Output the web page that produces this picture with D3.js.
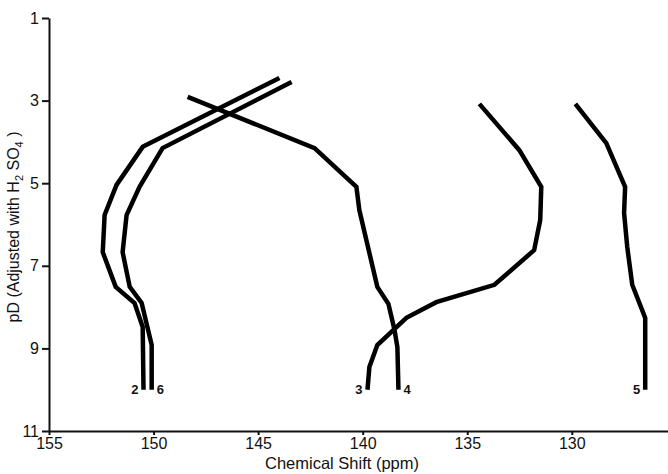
<!DOCTYPE html>
<html>
<head>
<meta charset="utf-8">
<script src="https://cdn.jsdelivr.net/npm/d3@7"></script>
<style>
  body { margin: 0; background: #fff; }
  svg text { font-family: "Liberation Sans", Arial, sans-serif; fill: #111; }
  .axis path, .axis line { stroke: #111; stroke-width: 2; }
  .axis text { font-size: 16px; }
  .curve { fill: none; stroke: #000; stroke-width: 4.5; stroke-linejoin: miter; }
  .curveLabel { font-size: 13px; font-weight: bold; }
</style>
</head>
<body>
<div id="chart"></div>
<script>
// chemical shift (ppm) vs pD, one pair of arrays per carbon
var shift2 = [143.98, 150.52, 151.77, 152.34, 152.43, 151.81, 150.91, 150.52, 150.48];
var pD2    = [2.45,   4.12,   5.04,   5.77,   6.67,   7.51,   7.90,   8.48,   10.0];

var shift6 = [143.4, 149.57, 150.67, 151.29, 151.48, 151.14, 150.57, 150.09, 150.09];
var pD6    = [2.55,  4.15,   5.09,   5.77,   6.67,   7.51,   7.90,   8.92,   10.0];

var shift4 = [148.37, 142.3, 140.3, 140.16, 139.3, 138.77, 138.48, 138.34, 138.29];
var pD4    = [2.91,   4.15,  5.09,  5.65,   7.51,  7.92,   8.55,   8.97,   10.0];

var shift3 = [134.42, 132.51, 131.46, 131.51, 131.8, 133.7, 136.48, 137.91, 139.3, 139.68, 139.77];
var pD3    = [3.08,   4.20,   5.09,   5.89,   6.62,  7.46,  7.88,   8.26,   8.92,  9.45,   10.0];

var shift5 = [129.83, 128.35, 127.45, 127.5, 127.35, 127.11, 126.49, 126.49];
var pD5    = [3.08,   4.03,   5.09,   5.72,  6.54,   7.46,   8.26,   10.0];

var curveNames = ["2", "6", "3", "4", "5"];
var labelSide = ["left", "right", "left", "right", "left"];

var xTicks = [155, 150, 145, 140, 135, 130];
var yTicks = [1, 3, 5, 7, 9, 11];

var series = [
  {name: "2", shift: shift2, pD: pD2},
  {name: "6", shift: shift6, pD: pD6},
  {name: "3", shift: shift3, pD: pD3},
  {name: "4", shift: shift4, pD: pD4},
  {name: "5", shift: shift5, pD: pD5}
];

var svgWidth = 668;
var svgHeight = 474;

var svg = d3.select("#chart")
  .append("svg")
  .attr("width", svgWidth)
  .attr("height", svgHeight);

// scales: shift runs right to left, pD runs top to bottom
var x = d3.scaleLinear().domain([155, 125.4]).range([49, 668]);
var y = d3.scaleLinear().domain([1, 11]).range([18, 431]);

svg.append("g")
  .attr("class", "axis")
  .attr("transform", "translate(0," + y(11) + ")")
  .call(d3.axisBottom(x).tickValues(xTicks).tickSize(4).tickSizeOuter(0).tickPadding(3));

svg.append("g")
  .attr("class", "axis")
  .attr("transform", "translate(" + x(155) + ",0)")
  .call(d3.axisLeft(y).tickValues(yTicks).tickSize(7).tickSizeOuter(0).tickPadding(3));

var line = d3.line()
  .x(d => x(d[0]))
  .y(d => y(d[1]));

series.forEach(function(s, i) {
  var pts = s.shift.map((v, j) => [v, s.pD[j]]);
  svg.append("path")
    .attr("class", "curve")
    .attr("d", line(pts));

  var last = pts[pts.length - 1];
  var left = labelSide[i] == "left";
  svg.append("text")
    .attr("class", "curveLabel")
    .attr("x", x(last[0]) + (left ? -5 : 5))
    .attr("y", y(last[1]) + 4)
    .attr("text-anchor", left ? "end" : "start")
    .text(curveNames[i]);
});

// axis titles
svg.append("text")
  .attr("x", 342)
  .attr("y", 469)
  .attr("text-anchor", "middle")
  .style("font-size", "16.5px")
  .text("Chemical Shift (ppm)");

var yTitle = svg.append("text")
  .attr("transform", "translate(19,227) rotate(-90)")
  .attr("text-anchor", "middle")
  .style("font-size", "16px");
yTitle.append("tspan").text("pD (Adjusted with H");
yTitle.append("tspan").attr("dy", 4).style("font-size", "11px").text("2");
yTitle.append("tspan").attr("dy", -4).text(" SO");
yTitle.append("tspan").attr("dy", 4).style("font-size", "11px").text("4");
yTitle.append("tspan").attr("dy", -4).text(" )");
</script>
</body>
</html>
